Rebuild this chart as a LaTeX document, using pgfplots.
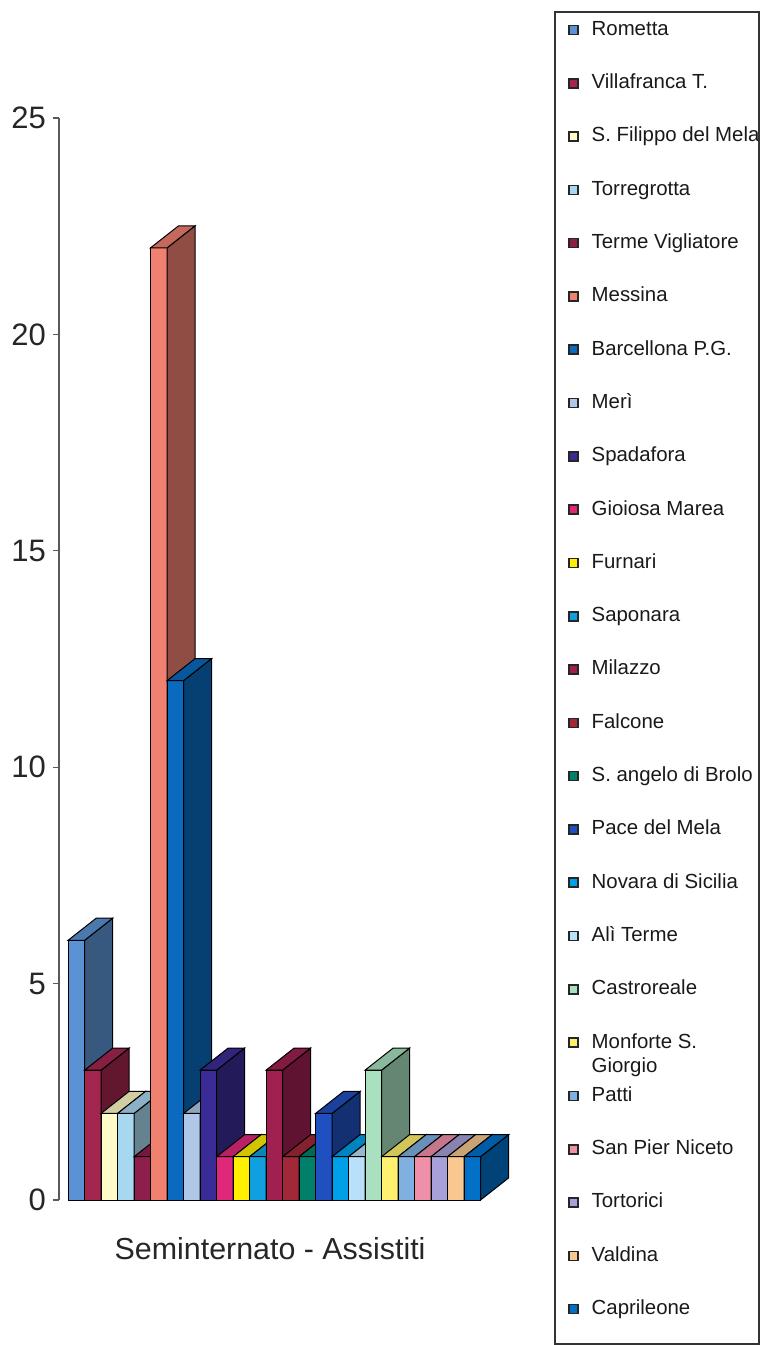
\documentclass[border=0pt]{standalone}
\usepackage{fontspec}
\setmainfont{Liberation Sans}
\usepackage{pgfplots}
\pgfplotsset{compat=1.18}

\definecolor{cRometta}{HTML}{5B92D3}
\definecolor{cVillafranca}{HTML}{A3264F}
\definecolor{cFilippo}{HTML}{FFFBC8}
\definecolor{cTorregrotta}{HTML}{A8D8F0}
\definecolor{cTerme}{HTML}{8E1E4A}
\definecolor{cMessina}{HTML}{F08070}
\definecolor{cBarcellona}{HTML}{0A6AC0}
\definecolor{cMeri}{HTML}{B0C8E8}
\definecolor{cSpadafora}{HTML}{3A2C96}
\definecolor{cGioiosa}{HTML}{E0287A}
\definecolor{cFurnari}{HTML}{FFF000}
\definecolor{cSaponara}{HTML}{10A0E0}
\definecolor{cMilazzo}{HTML}{A02050}
\definecolor{cFalcone}{HTML}{A02838}
\definecolor{cAngelo}{HTML}{00806A}
\definecolor{cPace}{HTML}{2050C0}
\definecolor{cNovara}{HTML}{00A0E8}
\definecolor{cAli}{HTML}{B8E0F8}
\definecolor{cCastroreale}{HTML}{A8E0C0}
\definecolor{cMonforte}{HTML}{FFF070}
\definecolor{cPatti}{HTML}{80B0E0}
\definecolor{cPier}{HTML}{F090A8}
\definecolor{cTortorici}{HTML}{A8A0D8}
\definecolor{cValdina}{HTML}{F8C890}
\definecolor{cCaprileone}{HTML}{0070C8}

% depth of the 3D effect, in axis units
\def\dx{1.7}
\def\dy{0.51}

% #1 position, #2 value, #3 colour, #4 legend text
\newcommand{\bart}[4]{%
  \pgfmathsetmacro\xa{#1}%
  \pgfmathsetmacro\xm{#1+0.5}%
  \pgfmathsetmacro\xb{#1+1}%
  \pgfmathsetmacro\xc{#1+1+\dx}%
  \pgfmathsetmacro\xd{#1+\dx}%
  \pgfmathsetmacro\yb{#2+\dy}%
  \addplot[ybar, bar width=1, bar shift=0pt, fill=#3, draw=black, line width=0.5pt,
    legend image code/.code={\draw[fill=#3, draw=black!85, line width=0.8pt] (0pt,-2.3pt) rectangle (4.5pt,2.2pt); \path (11pt,0pt);}]
    coordinates {(\xm,#2)};
  \addlegendentry{#4}
  \addplot[fill=#3!60!black, draw=black, line width=0.5pt, forget plot]
    coordinates {(\xb,0) (\xc,\dy) (\xc,\yb) (\xb,#2)} -- cycle;
  \addplot[fill=#3!82!black, draw=black, line width=0.5pt, forget plot]
    coordinates {(\xa,#2) (\xb,#2) (\xc,\yb) (\xd,\yb)} -- cycle;
}

\begin{document}
\begin{tikzpicture}
\useasboundingbox (-29.5pt,-72.5pt) rectangle (351.5pt,600pt);
\begin{axis}[
  at={(0pt,0pt)},
  width=228.1pt,
  height=541pt,
  scale only axis,
  clip=false,
  xmin=-0.55, xmax=27.1,
  ymin=0, ymax=25,
  ytick={0,5,...,25},
  xtick=\empty,
  axis y line*=left,
  axis x line*=bottom,
  x axis line style={draw=none},
  y axis line style={draw=black!65, line width=0.6pt},
  tick align=outside,
  major tick length=3pt,
  tick style={draw=black!65, line width=0.6pt},
  /pgf/number format/assume math mode=true,
  yticklabel style={font=\fontsize{15.5}{18}\selectfont, text=black!85},
  xlabel={Seminternato - Assistiti},
  xlabel style={at={(axis description cs:0.4627,0)}, anchor=north, yshift=-18.5pt,
    inner sep=0pt, font=\fontsize{15.2}{18}\selectfont, text=black!85},
  legend cell align=left,
  legend style={at={(axis description cs:1.1157,1.0906)}, anchor=north west,
    draw=none, fill=none, inner sep=0pt, row sep=17.15pt,
    nodes={inner sep=0pt, text height=7.5pt, text depth=2pt,
      font=\fontsize{10.2}{12}\selectfont, text=black!90}},
]
\bart{0}{6}{cRometta}{Rometta}
\bart{1}{3}{cVillafranca}{Villafranca T.}
\bart{2}{2}{cFilippo}{S. Filippo del Mela}
\bart{3}{2}{cTorregrotta}{Torregrotta}
\bart{4}{1}{cTerme}{Terme Vigliatore}
\bart{5}{22}{cMessina}{Messina}
\bart{6}{12}{cBarcellona}{Barcellona P.G.}
\bart{7}{2}{cMeri}{Merì}
\bart{8}{3}{cSpadafora}{Spadafora}
\bart{9}{1}{cGioiosa}{Gioiosa Marea}
\bart{10}{1}{cFurnari}{Furnari}
\bart{11}{1}{cSaponara}{Saponara}
\bart{12}{3}{cMilazzo}{Milazzo}
\bart{13}{1}{cFalcone}{Falcone}
\bart{14}{1}{cAngelo}{S. angelo di Brolo}
\bart{15}{2}{cPace}{Pace del Mela}
\bart{16}{1}{cNovara}{Novara di Sicilia}
\bart{17}{1}{cAli}{Alì Terme}
\bart{18}{3}{cCastroreale}{Castroreale}
\bart{19}{1}{cMonforte}{\begin{tabular}[t]{@{}l@{}}Monforte S.\\Giorgio\end{tabular}}
\bart{20}{1}{cPatti}{Patti}
\bart{21}{1}{cPier}{San Pier Niceto}
\bart{22}{1}{cTortorici}{Tortorici}
\bart{23}{1}{cValdina}{Valdina}
\bart{24}{1}{cCaprileone}{Caprileone}
\end{axis}
\draw[black!80, line width=0.8pt] (248pt,594pt) rectangle (350pt,-72pt);
\end{tikzpicture}
\end{document}
